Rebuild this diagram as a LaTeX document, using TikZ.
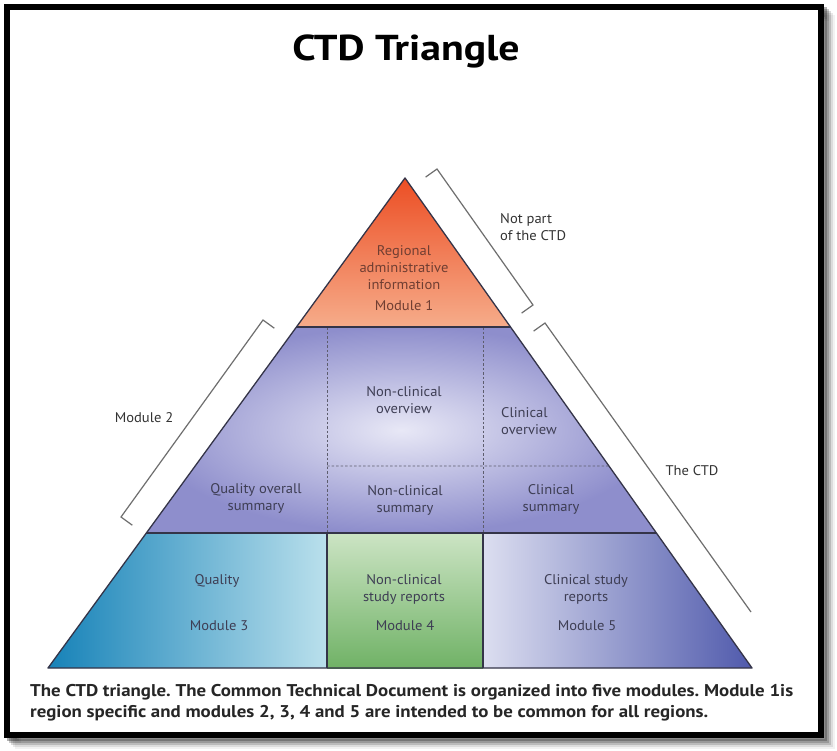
\documentclass[tikz,border=0pt]{standalone}
\usepackage{fontspec}
\setmainfont{PT Sans}
\newfontfamily\titlefont{PT Sans}[FakeStretch=1.16]
\newfontfamily\capfont{PT Sans}[FakeStretch=1.11]
\newfontfamily\labfont{PT Sans}[FakeStretch=1.04]
\usetikzlibrary{calc}
\frenchspacing
\definecolor{mOneTop}{RGB}{236,78,36}
\definecolor{mOneBot}{RGB}{246,172,138}
\definecolor{mTwoIn}{RGB}{232,232,246}
\definecolor{mTwoOut}{RGB}{142,142,204}
\definecolor{mThreeL}{RGB}{22,130,184}
\definecolor{mThreeR}{RGB}{186,224,236}
\definecolor{mFourT}{RGB}{204,228,196}
\definecolor{mFourB}{RGB}{112,178,102}
\definecolor{mFiveL}{RGB}{220,222,240}
\definecolor{mFiveR}{RGB}{80,90,172}
\definecolor{edgeC}{RGB}{52,52,72}
\definecolor{labC}{RGB}{62,62,84}
\definecolor{labOne}{RGB}{112,62,50}
\definecolor{brkC}{RGB}{110,110,110}
\tikzset{
  lab/.style={align=center, font=\labfont\fontsize{14}{17}\selectfont, text=labC, inner sep=0pt},
  labone/.style={lab, text=labOne},
  brk/.style={draw=brkC, line width=1.2pt, line join=miter},
  edge/.style={draw=edgeC, line width=1.3pt, line join=round},
  divl/.style={draw=edgeC, line width=1.1pt},
  dashl/.style={draw=edgeC!80, line width=0.8pt, dash pattern=on 2.5pt off 2pt},
  side/.style={align=left, font=\labfont\fontsize{14}{17}\selectfont, text=black!80, inner sep=0pt}
}
\begin{document}
\begin{tikzpicture}[x=1pt,y=-1pt]
\useasboundingbox (0,0) rectangle (837,751);
\fill[white] (0,0) rectangle (837,751);
% shadow of frame
\foreach \o/\a in {3/0.30,5/0.22,7/0.15,9/0.09,11/0.05}{
  \draw[black, opacity=\a, line width=6pt] (7+\o,7+\o) rectangle (821+\o,735+\o);
}
\fill[white] (10,10) rectangle (818,732);
\draw[black, line width=6pt] (7,7) rectangle (821,735);

% main coordinates
\coordinate (A) at (405,178);
\coordinate (BL) at (48,668);
\coordinate (BR) at (752,668);
\coordinate (L1) at ($(A)!0.3041!(BL)$);
\coordinate (R1) at ($(A)!0.3041!(BR)$);
\coordinate (L2) at ($(A)!0.7245!(BL)$);
\coordinate (R2) at ($(A)!0.7245!(BR)$);
\coordinate (R3) at ($(A)!0.5878!(BR)$);
\coordinate (V1t) at (327,327);
\coordinate (V1m) at (327,533);
\coordinate (V1b) at (327,668);
\coordinate (V2t) at (483,327);
\coordinate (V2m) at (483,533);
\coordinate (V2b) at (483,668);
\coordinate (H1) at (327,466);

% fills
\shade[top color=mOneTop, bottom color=mOneBot] (A) -- (R1) -- (L1) -- cycle;
\shade[inner color=mTwoIn, outer color=mTwoOut] (L1) -- (R1) -- (R2) -- (L2) -- cycle;
\shade[left color=mThreeL, right color=mThreeR] (L2) -- (V1m) -- (V1b) -- (BL) -- cycle;
\shade[top color=mFourT, bottom color=mFourB] (V1m) rectangle (V2b);
\shade[left color=mFiveL, right color=mFiveR] (V2m) -- (R2) -- (BR) -- (V2b) -- cycle;

% lines
\draw[dashl] (V1t) -- (V1m);
\draw[dashl] (V2t) -- (V2m);
\draw[dashl] (H1) -- (R3);
\draw[divl] (L1) -- (R1);
\draw[divl] (L2) -- (R2);
\draw[divl] (V1m) -- (V1b);
\draw[divl] (V2m) -- (V2b);
\draw[edge] (A) -- (BL) -- (BR) -- cycle;

% brackets
\coordinate (NPt) at (437,169);
\coordinate (NPth) at (425.6,177.1);
\coordinate (NPb) at (533,305);
\coordinate (NPbh) at (521.6,313.1);
\draw[brk] (NPth) -- (NPt) -- (NPb) -- (NPbh);
\coordinate (CTt) at (545,323);
\coordinate (CTth) at (533.6,331.1);
\coordinate (CTb) at (751,612);
\draw[brk] (CTth) -- (CTt) -- (CTb);
\coordinate (MTt) at (263,320);
\coordinate (MTth) at (274.3,328.2);
\coordinate (MTb) at (121,517);
\coordinate (MTbh) at (132.3,525.2);
\draw[brk] (MTth) -- (MTt) -- (MTb) -- (MTbh);

% title
\node[anchor=base, font=\titlefont\fontsize{36}{42}\selectfont\bfseries, inner sep=0pt] (title) at (406,61) {CTD Triangle};

% labels
\node[labone] (m1txt) at (404,268) {Regional\\administrative\\information};
\node[labone] (m1) at (404,306) {Module 1};
\node[lab] (ncov) at (404,400.5) {Non-clinical\\overview};
\node[lab, align=left, anchor=west] (cov) at (501,421) {Clinical\\overview};
\node[lab] (qos) at (256,498) {Quality overall\\summary};
\node[lab] (ncs) at (405,500) {Non-clinical\\summary};
\node[lab] (cs) at (551,499) {Clinical\\summary};
\node[lab] (q) at (217,581) {Quality};
\node[lab] (m3) at (219,626) {Module 3};
\node[lab] (ncsr) at (404,589.5) {Non-clinical\\study reports};
\node[lab] (m4) at (405,626) {Module 4};
\node[lab] (csr) at (586,589.5) {Clinical study\\reports};
\node[lab] (m5) at (587,626) {Module 5};

% side labels
\node[side] (m2) at (144,418) {Module 2};
\node[side, anchor=west] (np) at (500,227) {Not part\\of the CTD};
\node[side] (ctd) at (692,471) {The CTD};

% caption
\node[anchor=west, align=left, inner sep=0pt, font=\capfont\fontsize{17}{21}\selectfont\bfseries, text=black!85] (cap) at (30,702.5)
 {The CTD triangle. The Common Technical Document is organized into five modules. Module 1is\\region specific and modules 2, 3, 4 and 5 are intended to be common for all regions.};
\end{tikzpicture}
\end{document}
